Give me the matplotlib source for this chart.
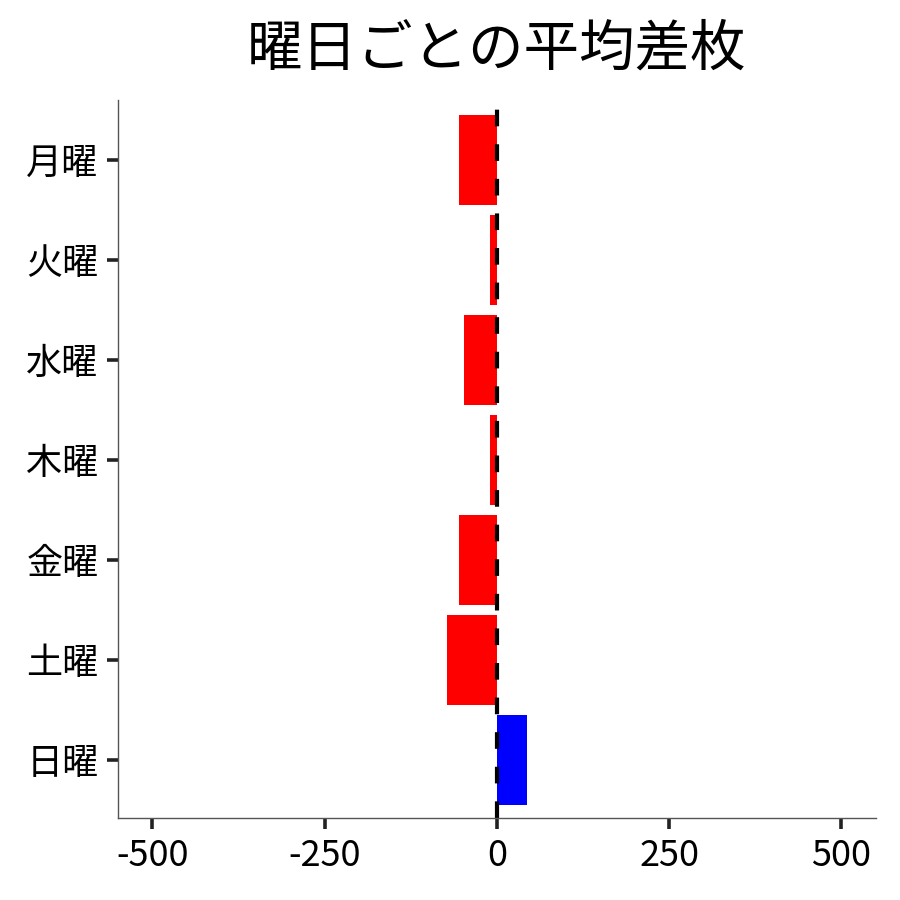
import matplotlib
matplotlib.use("Agg")
import matplotlib.pyplot as plt

plt.rcParams['font.family'] = ['Noto Sans CJK JP', 'DejaVu Sans']
plt.rcParams['axes.unicode_minus'] = False

days = ["月曜", "火曜", "水曜", "木曜", "金曜", "土曜", "日曜"]
avg_diff = [-54.6, -9.7, -47.4, -9.7, -54.6, -72.0, 43.5]

colors = ["blue" if v > 0 else "red" for v in avg_diff]

fig = plt.figure(figsize=(9, 9), dpi=100)
ax = fig.add_axes([0.131, 0.091, 0.842, 0.798])

ax.barh(range(len(days)), avg_diff, height=0.9, color=colors)
ax.axvline(0, color="black", linestyle=(0, (4, 4.3)), linewidth=3)

ax.set_yticks(range(len(days)))
ax.set_yticklabels(days)
ax.set_ylim(6.58, -0.6)
ax.set_xlim(-550, 550)
ax.set_xticks([-500, -250, 0, 250, 500])

ax.spines["top"].set_visible(False)
ax.spines["right"].set_visible(False)
for s in ["left", "bottom"]:
    ax.spines[s].set_color("#555555")
    ax.spines[s].set_linewidth(1.0)

ax.tick_params(axis="both", labelsize=26, length=8, width=2.6, color="#222222", pad=6)

ax.set_title("曜日ごとの平均差枚", fontsize=40, pad=25)

plt.savefig("out.png", dpi=100)
